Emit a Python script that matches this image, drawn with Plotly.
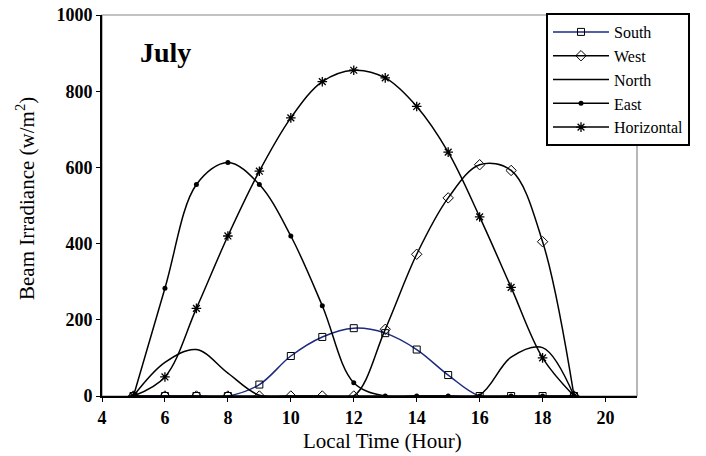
import plotly.graph_objects as go

hours = [5, 6, 7, 8, 9, 10, 11, 12, 13, 14, 15, 16, 17, 18, 19]
south = [0, 0, 0, 0, 30, 105, 155, 178, 165, 122, 55, 0, 0, 0, 0]
west = [0, 0, 0, 0, 0, 0, 0, 0, 175, 372, 520, 607, 592, 405, 0]
north = [0, 88, 122, 60, 2, 0, 0, 0, 0, 0, 0, 3, 102, 127, 0]
east = [0, 283, 555, 613, 555, 420, 237, 35, 0, 0, 0, 0, 0, 0, 0]
horizontal = [0, 50, 230, 420, 590, 730, 825, 855, 835, 760, 640, 470, 285, 100, 0]

xticks = [4, 6, 8, 10, 12, 14, 16, 18, 20]
yticks = [0, 200, 400, 600, 800, 1000]

FONT = "Liberation Serif, Times New Roman, serif"

fig = go.Figure()
series = [
    ("South", south, dict(symbol="square-open", size=7, color="black"), "#1a2a80", "lines+markers"),
    ("West", west, dict(symbol="diamond-open", size=8, color="black"), "black", "lines+markers"),
    ("North", north, dict(size=1), "black", "lines"),
    ("East", east, dict(symbol="circle", size=5, color="black"), "black", "lines+markers"),
    ("Horizontal", horizontal, dict(symbol="asterisk-open", size=8, color="black", line=dict(width=1.3, color="black")), "black", "lines+markers"),
]
for name, vals, mk, lc, mode in series:
    fig.add_trace(go.Scatter(
        x=hours, y=vals, name=name, mode=mode, marker=mk,
        line=dict(color=lc, width=1.5, shape="spline", smoothing=1.0),
        legendgroup=name,
    ))

W, H = 706, 456
L, R, T, B = 102, 69, 15, 60
PW, PH = W - L - R, H - T - B

def px(xp):
    return (xp - L) / PW

def py(yp):
    return (H - B - yp) / PH

fig.update_layout(
    width=W, height=H,
    margin=dict(l=L, r=R, t=T, b=B, autoexpand=False),
    paper_bgcolor="white", plot_bgcolor="white",
    font=dict(family=FONT, color="black"),
    showlegend=True,
    legend=dict(
        x=px(546), y=py(13), xanchor="left", yanchor="top",
        bordercolor="black", borderwidth=2, bgcolor="white",
        font=dict(family=FONT, size=16, color="black"),
        traceorder="grouped", tracegroupgap=0,
        itemwidth=56,
    ),
    xaxis=dict(
        range=[4, 21], tickvals=xticks, ticktext=[str(v) for v in xticks],
        showgrid=False, zeroline=False, showline=True, linecolor="black", linewidth=2,
        ticks="outside", ticklen=4, tickcolor="black",
        tickfont=dict(family=FONT, size=18, color="black", weight="bold"),
    ),
    yaxis=dict(
        range=[0, 1000], tickvals=yticks, ticktext=[str(v) for v in yticks],
        showgrid=False, zeroline=False, showline=True, linecolor="black", linewidth=2,
        ticks="outside", ticklen=4, tickcolor="black",
        tickfont=dict(family=FONT, size=18, color="black", weight="bold"),
    ),
    shapes=[dict(type="rect", xref="paper", yref="paper", x0=0, x1=1, y0=0, y1=1,
                 line=dict(color="#888888", width=1.2), layer="below")],
    annotations=[
        dict(text="<b>July</b>", xref="paper", yref="paper", x=px(138), y=py(53),
             xanchor="left", yanchor="middle", showarrow=False, font=dict(family=FONT, size=28, color="black")),
        dict(text="Local Time (Hour)", xref="paper", yref="paper", x=px(382), y=py(441),
             xanchor="center", yanchor="middle", showarrow=False, font=dict(family=FONT, size=21, color="black")),
        dict(text="Beam Irradiance (w/m<sup>2</sup>)", xref="paper", yref="paper", x=px(25),
             y=py(199), xanchor="center", yanchor="middle", textangle=-90, showarrow=False,
             font=dict(family=FONT, size=21, color="black")),
    ],
)

fig.write_html("out.html", config={"displayModeBar": False},
               post_script="document.body.style.margin='0';")
